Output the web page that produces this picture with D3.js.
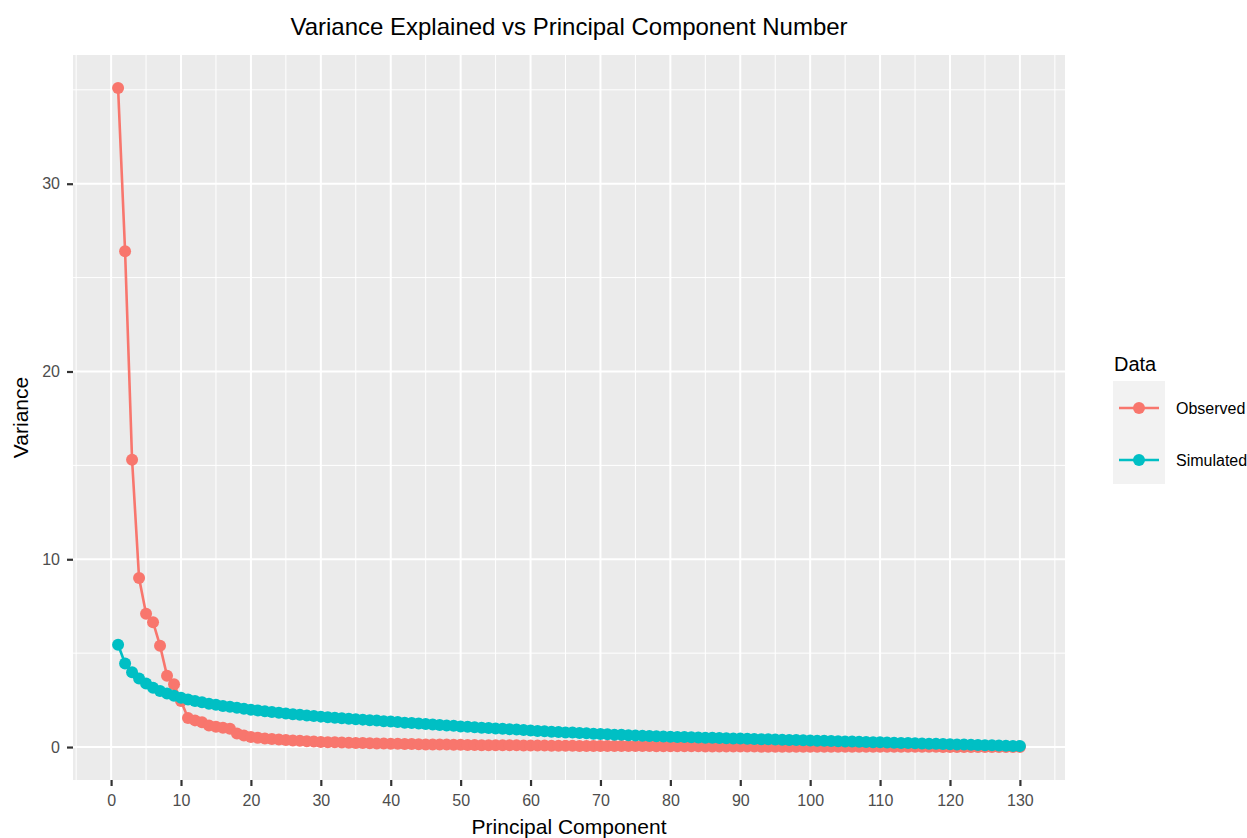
<!DOCTYPE html>
<html>
<head>
<meta charset="utf-8">
<script src="https://cdn.jsdelivr.net/npm/d3@7"></script>
<style>
  html, body { margin: 0; padding: 0; background: #ffffff; }
  svg { display: block; font-family: "Liberation Sans", Arial, sans-serif; }
</style>
</head>
<body>
<svg id="chart" width="1247" height="838"></svg>
<script>
// Principal component numbers 1..130
const components = d3.range(1, 131);

// Variance per component, observed data
const observedVariance = [
  35.1, 26.4, 15.3, 9.0, 7.1, 6.65, 5.4, 3.8, 3.35, 2.45,
  1.55, 1.42, 1.32, 1.15, 1.08, 1.03, 0.98, 0.72, 0.62, 0.53,
  0.49, 0.46, 0.43, 0.40, 0.37, 0.35, 0.33, 0.31, 0.29, 0.27,
  0.26, 0.25, 0.24, 0.23, 0.22, 0.21, 0.20, 0.19, 0.19, 0.18,
  0.17, 0.16, 0.16, 0.15, 0.14, 0.14, 0.13, 0.13, 0.12, 0.12,
  0.11, 0.11, 0.10, 0.10, 0.10, 0.09, 0.09, 0.09, 0.08, 0.08,
  0.08, 0.08, 0.07, 0.07, 0.07, 0.07, 0.06, 0.06, 0.06, 0.06,
  0.06, 0.05, 0.05, 0.05, 0.05, 0.05, 0.05, 0.04, 0.04, 0.04,
  0.04, 0.04, 0.04, 0.04, 0.03, 0.03, 0.03, 0.03, 0.03, 0.03,
  0.03, 0.03, 0.02, 0.02, 0.02, 0.02, 0.02, 0.02, 0.02, 0.02,
  0.02, 0.02, 0.02, 0.01, 0.01, 0.01, 0.01, 0.01, 0.01, 0.01,
  0.01, 0.01, 0.01, 0.01, 0.01, 0.01, 0.01, 0.01, 0.00, 0.00,
  0.00, 0.00, 0.00, 0.00, 0.00, 0.00, 0.00, 0.00, 0.00, 0.00
];

// Variance per component, simulated data
const simulatedVariance = [
  5.45, 4.45, 3.98, 3.65, 3.38, 3.16, 2.99, 2.85, 2.73, 2.62,
  2.53, 2.45, 2.38, 2.31, 2.25, 2.19, 2.14, 2.09, 2.04, 1.99,
  1.95, 1.91, 1.87, 1.83, 1.79, 1.75, 1.72, 1.68, 1.65, 1.62,
  1.59, 1.56, 1.53, 1.51, 1.48, 1.46, 1.43, 1.41, 1.38, 1.36,
  1.33, 1.30, 1.28, 1.25, 1.23, 1.20, 1.18, 1.15, 1.13, 1.10,
  1.08, 1.06, 1.03, 1.01, 0.99, 0.97, 0.95, 0.93, 0.91, 0.88,
  0.86, 0.84, 0.82, 0.80, 0.78, 0.77, 0.75, 0.73, 0.71, 0.69,
  0.68, 0.66, 0.65, 0.63, 0.62, 0.60, 0.59, 0.58, 0.56, 0.55,
  0.54, 0.53, 0.52, 0.51, 0.50, 0.49, 0.48, 0.47, 0.46, 0.45,
  0.44, 0.43, 0.42, 0.41, 0.40, 0.39, 0.38, 0.37, 0.36, 0.35,
  0.34, 0.33, 0.32, 0.31, 0.30, 0.29, 0.28, 0.27, 0.26, 0.25,
  0.24, 0.23, 0.22, 0.21, 0.20, 0.19, 0.18, 0.17, 0.16, 0.15,
  0.14, 0.13, 0.12, 0.11, 0.10, 0.09, 0.08, 0.07, 0.06, 0.05
];

const seriesNames = ["Observed", "Simulated"];
const seriesColors = ["#F8766D", "#00BFC4"];
const xTicks = d3.range(0, 131, 10);
const yTicks = [0, 10, 20, 30];

const series = [
  { name: seriesNames[0], color: seriesColors[0], values: observedVariance },
  { name: seriesNames[1], color: seriesColors[1], values: simulatedVariance }
];

const svg = d3.select("#chart");
const panel = { left: 73, right: 1065, top: 55, bottom: 780 };
const pointR = 6;
const lineW = 2.6;

// ggplot-style 5% expansion of the data range
const xMin = d3.min(components), xMax = d3.max(components);
const xPad = (xMax - xMin) * 0.05;
const allY = observedVariance.concat(simulatedVariance);
const yMin = d3.min(allY), yMax = d3.max(allY);
const yPad = (yMax - yMin) * 0.05;

const x = d3.scaleLinear().domain([xMin - xPad, xMax + xPad]).range([panel.left, panel.right]);
const y = d3.scaleLinear().domain([yMin - yPad, yMax + yPad]).range([panel.bottom, panel.top]);

// Panel background
svg.append("rect")
  .attr("x", panel.left).attr("y", panel.top)
  .attr("width", panel.right - panel.left).attr("height", panel.bottom - panel.top)
  .attr("fill", "#EBEBEB");

const grid = svg.append("g");
// Minor grid lines halfway between major ticks
const xMinor = d3.range(-5, 140, 10).filter(v => x(v) >= panel.left && x(v) <= panel.right);
const yMinor = d3.range(5, 40, 10).filter(v => y(v) >= panel.top && y(v) <= panel.bottom);
grid.selectAll(".xminor").data(xMinor).join("line")
  .attr("x1", d => x(d)).attr("x2", d => x(d))
  .attr("y1", panel.top).attr("y2", panel.bottom)
  .attr("stroke", "#ffffff").attr("stroke-width", 1);
grid.selectAll(".yminor").data(yMinor).join("line")
  .attr("x1", panel.left).attr("x2", panel.right)
  .attr("y1", d => y(d)).attr("y2", d => y(d))
  .attr("stroke", "#ffffff").attr("stroke-width", 1);
// Major grid lines
grid.selectAll(".xmajor").data(xTicks).join("line")
  .attr("x1", d => x(d)).attr("x2", d => x(d))
  .attr("y1", panel.top).attr("y2", panel.bottom)
  .attr("stroke", "#ffffff").attr("stroke-width", 2);
grid.selectAll(".ymajor").data(yTicks).join("line")
  .attr("x1", panel.left).attr("x2", panel.right)
  .attr("y1", d => y(d)).attr("y2", d => y(d))
  .attr("stroke", "#ffffff").attr("stroke-width", 2);

// Axes
const xAxis = svg.append("g")
  .attr("transform", `translate(0,${panel.bottom})`)
  .call(d3.axisBottom(x).tickValues(xTicks).tickSize(6).tickPadding(9).tickFormat(d3.format("d")));
const yAxis = svg.append("g")
  .attr("transform", `translate(${panel.left},0)`)
  .call(d3.axisLeft(y).tickValues(yTicks).tickSize(6).tickPadding(7).tickFormat(d3.format("d")));
[xAxis, yAxis].forEach(a => {
  a.select(".domain").remove();
  a.selectAll(".tick line").attr("stroke", "#333333").attr("stroke-width", 2.2);
  a.selectAll(".tick text").attr("fill", "#4D4D4D").attr("font-size", 16)
    .attr("font-family", "'Liberation Sans', Arial, sans-serif");
});

// Lines, then points
const line = d3.line().x((d, i) => x(components[i])).y(d => y(d));
svg.append("g").selectAll("path").data(series).join("path")
  .attr("d", s => line(s.values))
  .attr("fill", "none")
  .attr("stroke", s => s.color)
  .attr("stroke-width", lineW);

series.forEach(s => {
  svg.append("g").selectAll("circle").data(s.values).join("circle")
    .attr("cx", (d, i) => x(components[i]))
    .attr("cy", d => y(d))
    .attr("r", pointR)
    .attr("fill", s.color);
});

// Titles
svg.append("text")
  .attr("x", (panel.left + panel.right) / 2).attr("y", 35)
  .attr("text-anchor", "middle").attr("font-size", 24).attr("fill", "#000")
  .text("Variance Explained vs Principal Component Number");
svg.append("text")
  .attr("x", (panel.left + panel.right) / 2).attr("y", 834)
  .attr("text-anchor", "middle").attr("font-size", 21).attr("fill", "#000")
  .text("Principal Component");
svg.append("text")
  .attr("transform", `translate(28,${(panel.top + panel.bottom) / 2}) rotate(-90)`)
  .attr("text-anchor", "middle").attr("font-size", 21).attr("fill", "#000")
  .text("Variance");

// Legend
const legend = svg.append("g").attr("transform", "translate(1113,0)");
legend.append("text").attr("x", 1).attr("y", 371)
  .attr("font-size", 20).attr("fill", "#000").text("Data");
legend.append("rect").attr("x", 0).attr("y", 381).attr("width", 52).attr("height", 103)
  .attr("fill", "#F2F2F2");
series.forEach((s, i) => {
  const cy = 408 + i * 52;
  legend.append("line").attr("x1", 6).attr("x2", 46).attr("y1", cy).attr("y2", cy)
    .attr("stroke", s.color).attr("stroke-width", lineW);
  legend.append("circle").attr("cx", 26).attr("cy", cy).attr("r", pointR).attr("fill", s.color);
  legend.append("text").attr("x", 63).attr("y", cy + 6)
    .attr("font-size", 16).attr("fill", "#000").text(s.name);
});
</script>
</body>
</html>
